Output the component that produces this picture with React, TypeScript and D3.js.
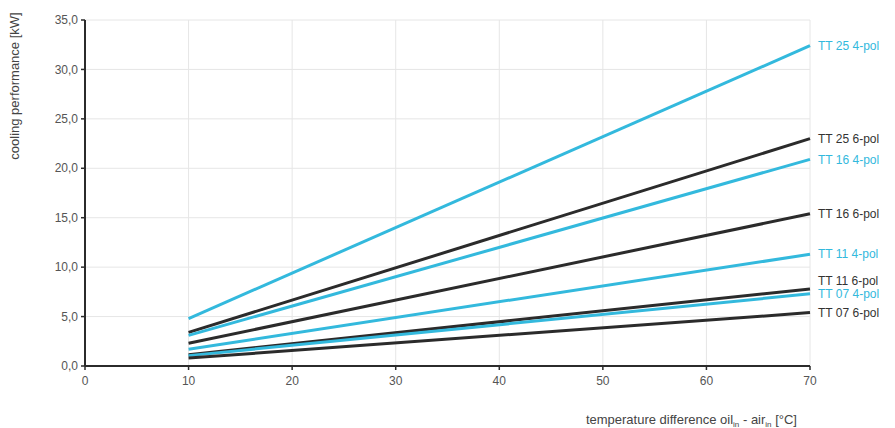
import React from "react";
import * as d3 from "d3";

const xTicks = [0, 10, 20, 30, 40, 50, 60, 70];
const yTicks = [0, 5, 10, 15, 20, 25, 30, 35];
const seriesNames = [
  "TT 25 4-pol",
  "TT 25 6-pol",
  "TT 16 4-pol",
  "TT 16 6-pol",
  "TT 11 4-pol",
  "TT 11 6-pol",
  "TT 07 4-pol",
  "TT 07 6-pol",
];
const seriesKinds = ["4", "6", "4", "6", "4", "6", "4", "6"];
const startX = 10;
const endX = 70;
const startValues = [4.8, 3.4, 3.1, 2.3, 1.7, 1.15, 1.05, 0.8];
const endValues = [32.4, 23.0, 20.9, 15.4, 11.3, 7.8, 7.3, 5.4];

const W = 895;
const H = 428;
const left = 85;
const right = 810;
const top = 20;
const bottom = 366;
const CYAN = "#33b9dd";
const DARK = "#2b2b2b";
const FONT = "'Liberation Sans', Arial, Helvetica, sans-serif";

export default function App() {
  const x = d3.scaleLinear().domain([0, 70]).range([left, right]);
  const y = d3.scaleLinear().domain([0, 35]).range([bottom, top]);
  const line = d3
    .line<[number, number]>()
    .x((d) => x(d[0]))
    .y((d) => y(d[1]));

  // label placement with simple collision avoidance (push upwards)
  const order = endValues.map((v, i) => i).sort((a, b) => y(endValues[b]) - y(endValues[a]));
  const labelY: number[] = new Array(endValues.length);
  let prev = Infinity;
  const gap = 13;
  order.forEach((i) => {
    let ly = y(endValues[i]);
    if (ly > prev - gap) ly = prev - gap;
    labelY[i] = ly;
    prev = ly;
  });

  return (
    <svg
      width={W}
      height={H}
      style={{ position: "absolute", left: 0, top: 0, background: "#fff" }}
      fontFamily={FONT}
    >
      {/* grid */}
      {yTicks.slice(1).map((t) => (
        <line key={"gy" + t} x1={left} x2={right} y1={y(t)} y2={y(t)} stroke="#e6e6e6" strokeWidth={1} />
      ))}
      {xTicks.slice(1).map((t) => (
        <line key={"gx" + t} x1={x(t)} x2={x(t)} y1={top} y2={bottom} stroke="#e6e6e6" strokeWidth={1} />
      ))}

      {/* series */}
      {seriesNames.map((name, i) => (
        <path
          key={name}
          d={line([
            [startX, startValues[i]],
            [endX, endValues[i]],
          ]) || ""}
          fill="none"
          stroke={seriesKinds[i] === "4" ? CYAN : DARK}
          strokeWidth={3}
          strokeLinecap="butt"
        />
      ))}

      {/* axes */}
      <line x1={left} x2={left} y1={top} y2={bottom} stroke={DARK} strokeWidth={2} />
      <line x1={left} x2={right} y1={bottom} y2={bottom} stroke={DARK} strokeWidth={2} />
      {yTicks.map((t) => (
        <g key={"yt" + t}>
          <line x1={left - 4} x2={left} y1={y(t)} y2={y(t)} stroke={DARK} strokeWidth={1.5} />
          <text x={left - 7} y={y(t)} dy="0.35em" textAnchor="end" fontSize={12} fill="#555">
            {d3.format(".1f")(t).replace(".", ",")}
          </text>
        </g>
      ))}
      {xTicks.map((t) => (
        <g key={"xt" + t}>
          <line x1={x(t)} x2={x(t)} y1={bottom} y2={bottom + 4} stroke={DARK} strokeWidth={1.5} />
          <text x={x(t)} y={bottom + 19} textAnchor="middle" fontSize={12} fill="#555">
            {t}
          </text>
        </g>
      ))}

      {/* series labels */}
      {seriesNames.map((name, i) => (
        <text
          key={"l" + name}
          x={right + 8}
          y={labelY[i]}
          dy="0.35em"
          fontSize={12}
          fill={seriesKinds[i] === "4" ? CYAN : "#333"}
        >
          {name}
        </text>
      ))}

      {/* axis titles */}
      <text
        transform={`translate(19,86) rotate(-90)`}
        textAnchor="middle"
        fontSize={13}
        fill="#444"
      >
        cooling performance [kW]
      </text>
      <text x={797} y={424} textAnchor="end" fontSize={13} fill="#444">
        temperature difference oil
        <tspan fontSize={8} dy={3}>in</tspan>
        <tspan dy={-3}> - air</tspan>
        <tspan fontSize={8} dy={3}>in</tspan>
        <tspan dy={-3}> [°C]</tspan>
      </text>
    </svg>
  );
}
